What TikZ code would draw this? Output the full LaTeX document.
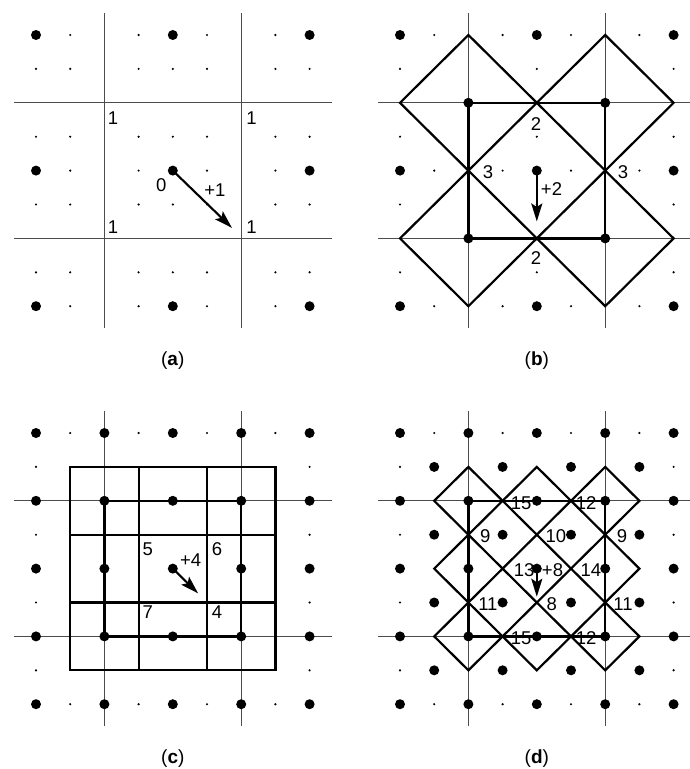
\documentclass[tikz,border=0pt]{standalone}
\usepackage{fontspec}
\setmainfont{Liberation Sans}
\usetikzlibrary{arrows.meta}
\tikzset{
 gridline/.style={draw=black!70, line width=1bp},
 heavy/.style={draw=black, line width=2.2bp, line join=miter},
 arr/.style={line width=2.1bp, -{Stealth[length=18bp,width=11bp,inset=3.5bp]}},
 lab/.style={font=\fontsize{18.5bp}{20bp}\selectfont, inner sep=0pt},
 captext/.style={font=\fontsize{19bp}{21bp}\selectfont, inner sep=0pt},
}
\newcommand\mygrid{\foreach \k in {2,6}{\draw[gridline] (\k,-0.65) -- (\k,8.65); \draw[gridline] (-0.65,\k) -- (8.65,\k);}}
\begin{document}
\begin{tikzpicture}[x=1bp,y=-1bp]
\useasboundingbox (0,0) rectangle (690,769);
% ---------------- (a)
\begin{scope}[shift={(36,35)}, x=34.2bp, y=-33.9bp]
\mygrid
\foreach \i in {0,1,3,4,5,7,8}{\foreach \j in {0,1,3,4,5,7,8}{\fill (\i,\j) circle[radius=1.2bp];}}
\foreach \i in {0,4,8}{\foreach \j in {0,4,8}{\fill (\i,\j) circle[radius=5bp];}}
\node[lab] (a1) at (2.25,2.45) {1};
\node[lab] (a2) at (6.3,2.45) {1};
\node[lab] (a3) at (2.25,5.66) {1};
\node[lab] (a4) at (6.3,5.66) {1};
\node[lab] (a0) at (3.66,4.42) {0};
\node[lab] (ap) at (5.23,4.57) {+1};
\coordinate (as) at (4,4);
\coordinate (ae) at (5.73,5.69);
\draw[arr] (as) -- (ae);
\node[captext] (capa) at (4,9.59) {(\textbf{a})};
\end{scope}
% ---------------- (b)
\begin{scope}[shift={(400,35)}, x=34.2bp, y=-33.9bp]
\mygrid
\foreach \c in {(2,2),(6,2),(2,6),(6,6)}{\draw[heavy] \c ++(0,-2) -- ++(2,2) -- ++(-2,2) -- ++(-2,-2) -- cycle;}
\draw[heavy] (2,2) rectangle (6,6);
\foreach \i in {0,4,8}{\foreach \j in {0,1,3,4,5,7,8}{\fill (\i,\j) circle[radius=1.2bp]; \fill (\j,\i) circle[radius=1.2bp];}}
\foreach \i in {0,4,8}{\foreach \j in {0,4,8}{\fill (\i,\j) circle[radius=5bp];}}
\foreach \i in {2,6}{\foreach \j in {2,6}{\fill (\i,\j) circle[radius=5bp];}}
\node[lab] (b1) at (3.98,2.63) {2};
\node[lab] (b2) at (3.98,6.58) {2};
\node[lab] (b3) at (2.57,4.04) {3};
\node[lab] (b4) at (6.52,4.04) {3};
\node[lab] (bp) at (4.43,4.54) {+2};
\coordinate (bs) at (4,4);
\coordinate (be) at (4,5.5);
\draw[arr] (bs) -- (be);
\node[captext] (capb) at (4,9.59) {(\textbf{b})};
\end{scope}
% ---------------- (c)
\begin{scope}[shift={(36,433)}, x=34.2bp, y=-33.9bp]
\mygrid
\draw[heavy] (1,1) rectangle (7,7);
\foreach \k in {3,5}{\draw[heavy] (\k,1) -- (\k,7); \draw[heavy] (1,\k) -- (7,\k);}
\draw[heavy] (2,2) rectangle (6,6);
\foreach \i in {0,8}{\foreach \j in {1,3,5,7}{\fill (\i,\j) circle[radius=1.2bp]; \fill (\j,\i) circle[radius=1.2bp];}}
\foreach \i in {0,2,4,6,8}{\foreach \j in {0,2,4,6,8}{\fill (\i,\j) circle[radius=5bp];}}
\node[lab] (c5) at (3.27,3.44) {5};
\node[lab] (c6) at (5.29,3.44) {6};
\node[lab] (c7) at (3.27,5.27) {7};
\node[lab] (c4) at (5.29,5.27) {4};
\node[lab] (cp) at (4.52,3.76) {+4};
\coordinate (cs) at (4,4);
\coordinate (ce) at (4.74,4.73);
\draw[arr] (cs) -- (ce);
\node[captext] (capc) at (4,9.59) {(\textbf{c})};
\end{scope}
% ---------------- (d)
\begin{scope}[shift={(400,433)}, x=34.2bp, y=-33.9bp]
\mygrid
\foreach \i in {2,4,6}{\foreach \j in {2,4,6}{\draw[heavy] (\i,\j-1) -- (\i+1,\j) -- (\i,\j+1) -- (\i-1,\j) -- cycle;}}
\draw[heavy] (2,2) rectangle (6,6);
\foreach \i in {0,8}{\foreach \j in {1,3,5,7}{\fill (\i,\j) circle[radius=1.2bp]; \fill (\j,\i) circle[radius=1.2bp];}}
\foreach \i in {0,2,4,6,8}{\foreach \j in {0,2,4,6,8}{\fill (\i,\j) circle[radius=5bp];}}
\foreach \i in {1,3,5,7}{\foreach \j in {1,3,5,7}{\fill (\i,\j) circle[radius=5bp];}}
\node[lab] (d15a) at (3.54,2.08) {15};
\node[lab] (d12a) at (5.44,2.08) {12};
\node[lab] (d9a) at (2.49,3.03) {9};
\node[lab] (d10) at (4.56,3.03) {10};
\node[lab] (d9b) at (6.49,3.03) {9};
\node[lab] (d13) at (3.63,4.04) {13};
\node[lab] (dp) at (4.46,4.04) {+8};
\node[lab] (d14) at (5.58,4.04) {14};
\node[lab] (d11a) at (2.57,5.04) {11};
\node[lab] (d8) at (4.44,5.04) {8};
\node[lab] (d11b) at (6.52,5.04) {11};
\node[lab] (d15b) at (3.54,6.05) {15};
\node[lab] (d12b) at (5.44,6.05) {12};
\coordinate (ds) at (4,4);
\coordinate (de) at (4,4.83);
\draw[arr] (ds) -- (de);
\node[captext] (capd) at (4,9.59) {(\textbf{d})};
\end{scope}
\end{tikzpicture}
\end{document}
